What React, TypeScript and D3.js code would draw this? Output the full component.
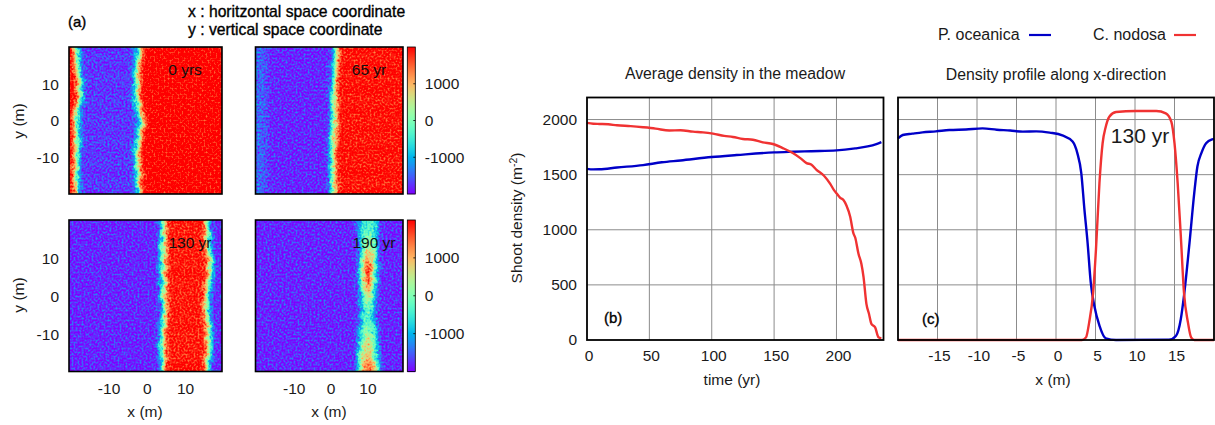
import React, { useEffect, useRef } from "react";
import * as d3 from "d3";

const FONT = "'Liberation Sans', Arial, sans-serif";

// ---- panel (a): density maps, edges read per 2 m row, top to bottom
const rowY = [19, 17, 15, 13, 11, 9, 7, 5, 3, 1, -1, -3, -5, -7, -9, -11, -13, -15, -17, -19];

const edgeLeft0 = [-18, -18, -17.8, -17.5, -17.2, -17.1, -17.1, -17.3, -17.8, -18, -18, -18.1, -18, -17.8, -17.8, -18, -18.1, -18, -18, -18];
const edgeRight0 = [-1.8, -1.9, -2.1, -2.4, -2.2, -2.4, -2.4, -2.2, -1.8, -1.2, -1.1, -1.6, -1.8, -2.2, -2.4, -2.2, -2, -1.9, -2, -1.9];
const edgeLeft65 = [1.8, 1.7, 1.6, 1.4, 1.2, 1.1, 1.2, 1.3, 1.3, 1.2, 1.1, 1.2, 1, 0.9, 0.7, 0.8, 1, 1, 0.9, 1];
const edgeLeft130 = [4.7, 4.6, 4.6, 4.5, 4.5, 4.6, 4.4, 4.6, 4.7, 4.6, 4.7, 4.8, 4.9, 4.7, 4.4, 4.2, 4.3, 4.5, 4.6, 4.6];
const edgeRight130 = [16.2, 16.3, 16.4, 16.5, 16.7, 17, 17.2, 16.9, 16.5, 16.3, 16.2, 16.2, 16.3, 16.4, 16.6, 16.8, 16.8, 16.7, 16.3, 16.1];
const edgeLeft190 = [8.2, 8.3, 8.5, 8.7, 8.9, 9, 8.8, 8.7, 8.9, 9, 8.9, 9, 8.8, 8.7, 8.5, 8.5, 8.3, 8.2, 8.1, 8.2];
const edgeRight190 = [13, 12.9, 12.7, 12.5, 12.4, 12.3, 12.3, 12.2, 12.1, 12, 12, 11.9, 12, 12.2, 12.4, 12.5, 12.7, 12.8, 12.9, 13];
const level190 = [-300, -200, 100, 500, 1100, 1500, 2000, 2000, 1700, 1100, 700, 200, -100, -100, 200, 600, 800, 800, 1100, 1500];

const levelBlue = -1810;
const levelRed = 2000;
const levelRed130 = 1960;

const mapLabels = ["0 yrs", "65 yr", "130 yr", "190 yr"];

// ---- panel (b): average density
const timeBlue = [0, 5, 10, 24, 45, 60, 75, 100, 120, 150, 165, 180, 200, 215, 225, 232, 236];
const oceanicaAvg = [1553, 1548, 1549, 1565, 1587, 1612, 1629, 1660, 1678, 1702, 1708, 1713, 1720, 1738, 1756, 1778, 1796];
const timeRed = [0, 5, 10, 17, 24, 35, 45, 55, 66, 75, 85, 93, 101, 110, 117, 125, 133, 141, 149, 157, 165, 171, 176, 180, 184, 190, 195, 198, 200, 203, 205.6, 208, 211, 213.6, 215, 217.6, 220, 221.7, 224, 226, 228, 231, 233.7, 236];
const nodosaAvg = [1970, 1962, 1960, 1957, 1948, 1940, 1930, 1918, 1900, 1903, 1890, 1884, 1872, 1852, 1842, 1824, 1817, 1793, 1778, 1741, 1696, 1650, 1605, 1590, 1544, 1490, 1416, 1360, 1331, 1290, 1270, 1220, 1118, 967, 930, 784, 690, 571, 328, 240, 146, 115, 24, 15];

// ---- panel (c): profile at 130 yr
const xBlue = [-20, -19.4, -18.2, -16.9, -15.2, -13.5, -11.4, -9.3, -7.5, -5.8, -4.2, -2.5, -0.8, 0.8, 2.1, 2.7, 3.2, 3.6, 4, 4.4, 4.85, 5.5, 6.3, 7.6, 14.3, 15.2, 15.8, 16.2, 16.9, 17.5, 17.9, 18.4, 19, 19.8, 20];
const oceanicaProfile = [1830, 1860, 1872, 1884, 1893, 1905, 1910, 1920, 1908, 1900, 1890, 1893, 1881, 1857, 1800, 1695, 1514, 1183, 882, 520, 310, 130, 15, 0, 3, 39, 190, 400, 882, 1333, 1574, 1695, 1785, 1821, 1825];
const xRed = [-20, 3.3, 3.8, 4.2, 4.7, 5.06, 5.5, 5.9, 6.3, 6.75, 7.6, 10.1, 12.7, 13.9, 14.6, 15, 15.4, 15.8, 16.2, 16.7, 17.1, 17.5, 20];
const nodosaProfile = [0, 0, 24, 160, 430, 822, 1424, 1785, 1935, 2026, 2068, 2077, 2077, 2056, 1980, 1785, 1424, 942, 430, 160, 24, 0, 0];

const mapXTicks = [-10, 0, 10];
const mapYTicks = [-10, 0, 10];
const barTicks = [-1000, 0, 1000];
const timeTicks = [0, 50, 100, 150, 200];
const densityTicks = [0, 500, 1000, 1500, 2000];
const profileTicks = [-15, -10, -5, 0, 5, 10, 15];

const BLUE = "#0000c8";
const RED = "#f03232";
const GRID = "#8c8c8c";

const clamp = (v: number) => Math.max(0, Math.min(1, v));
// gnuplot rainbow palette (rgbformulae 33,13,10)
const rainbow = (t: number) => [
  clamp(Math.abs(2 * t - 0.5)),
  clamp(Math.sin(Math.PI * t)),
  clamp(Math.cos((Math.PI * t) / 2)),
];
const tableSteps = d3.range(0, 1.0001, 1 / 40);
const table = (i: number) => tableSteps.map((t) => rainbow(t)[i].toFixed(3)).join(" ");

const valueToUnit = d3.scaleLinear().domain([-2000, 2000]).range([0, 1]).clamp(true);
const grey = (v: number) => {
  const c = Math.round(valueToUnit(v) * 255);
  return `rgb(${c},${c},${c})`;
};

type Band = { lo: number[] | number; hi: number[] | number; level: number[] | number };
type MapSpec = { base: number; bands: Band[]; x0: number; x1: number; y0: number; y1: number; seed: number; label: string; lx: number };

const at = (v: number[] | number, i: number) => (Array.isArray(v) ? v[i] : v);

const Axis = ({ kind, scale, ticks, transform }: any) => {
  const ref = useRef<SVGGElement>(null);
  useEffect(() => {
    const ax = (kind === "bottom" ? d3.axisBottom(scale) : d3.axisLeft(scale))
      .tickValues(ticks)
      .tickSize(0)
      .tickPadding(0)
      .tickFormat((d: any) => String(d));
    const g = d3.select(ref.current as SVGGElement);
    g.call(ax as any);
    g.select(".domain").remove();
    g.attr("font-family", FONT).attr("font-size", 15.5);
    g.selectAll("text").attr("fill", "#1a1a1a");
  }, []);
  return <g ref={ref} transform={transform} />;
};

const DensityMap = ({ spec, id, showY, showX }: { spec: MapSpec; id: string; showY: boolean; showX: boolean }) => {
  const { x0, x1, y0, y1 } = spec;
  const x = d3.scaleLinear().domain([-20, 20]).range([x0, x1]);
  const y = d3.scaleLinear().domain([-20, 20]).range([y1, y0]);
  const pad = 16;
  const amp = 0.44;
  return (
    <g>
      <defs>
        <clipPath id={`${id}-clip`}>
          <rect x={x0} y={y0} width={x1 - x0} height={y1 - y0} />
        </clipPath>
        <filter
          id={`${id}-f`}
          filterUnits="userSpaceOnUse"
          x={x0 - pad}
          y={y0 - pad}
          width={x1 - x0 + 2 * pad}
          height={y1 - y0 + 2 * pad}
          colorInterpolationFilters="sRGB"
        >
          {/* value image -> soft edges -> rough edges -> grain -> rainbow palette */}
          <feGaussianBlur in="SourceGraphic" stdDeviation="3.6" result="soft" />
          <feTurbulence type="fractalNoise" baseFrequency="0.14" numOctaves="2" seed={spec.seed} result="warp" />
          <feDisplacementMap in="soft" in2="warp" scale="7" xChannelSelector="R" yChannelSelector="G" result="rough" />
          <feTurbulence type="fractalNoise" baseFrequency="0.5" numOctaves="2" seed={spec.seed + 7} result="grain0" />
          <feColorMatrix in="grain0" type="matrix" values="1 0 0 0 0 1 0 0 0 0 1 0 0 0 0 0 0 0 0 1" result="grain" />
          <feComposite in="rough" in2="grain" operator="arithmetic" k1="0" k2="1" k3={amp} k4={-amp / 2} result="value" />
          <feComponentTransfer in="value">
            <feFuncR type="table" tableValues={table(0)} />
            <feFuncG type="table" tableValues={table(1)} />
            <feFuncB type="table" tableValues={table(2)} />
          </feComponentTransfer>
        </filter>
      </defs>
      <g clipPath={`url(#${id}-clip)`}>
        <g filter={`url(#${id}-f)`}>
          <rect x={x0 - pad} y={y0 - pad} width={x1 - x0 + 2 * pad} height={y1 - y0 + 2 * pad} fill={grey(spec.base)} />
          {spec.bands.map((b, k) =>
            rowY.map((ry, i) => {
              const top = i === 0 ? y0 - pad : y(ry + 1);
              const bottom = i === rowY.length - 1 ? y1 + pad : y(ry - 1);
              const l = Math.max(x(at(b.lo, i)), x0 - pad);
              const r = Math.min(x(at(b.hi, i)), x1 + pad);
              return <rect key={`${k}-${i}`} x={l} y={top} width={r - l} height={bottom - top} fill={grey(at(b.level, i))} />;
            })
          )}
        </g>
      </g>
      <rect x={x0} y={y0} width={x1 - x0} height={y1 - y0} fill="none" stroke="#000" strokeWidth={1.6} />
      <text x={spec.lx} y={y0 + 28} fontSize={15.5} fontFamily={FONT} fill="#111" textAnchor="middle">
        {spec.label}
      </text>
      {showY && <Axis kind="left" scale={y} ticks={mapYTicks} transform={`translate(${x0 - 10},0.5)`} />}
      {showX && <Axis kind="bottom" scale={x} ticks={mapXTicks} transform={`translate(1.3,${y1 + 11})`} />}
    </g>
  );
};

const ColorBar = ({ x, y0, y1 }: { x: number; y0: number; y1: number }) => {
  const y = d3.scaleLinear().domain([-2000, 2000]).range([y1, y0]);
  const cells = d3.range(0, y1 - y0);
  return (
    <g>
      {cells.map((c) => {
        const [r, g, b] = rainbow(1 - (c + 0.5) / (y1 - y0));
        return (
          <rect
            key={c}
            x={x}
            y={y0 + c}
            width={8}
            height={1.2}
            fill={d3.rgb(r * 255, g * 255, b * 255).formatHex()}
          />
        );
      })}
      <rect x={x} y={y0} width={8} height={y1 - y0} fill="none" stroke="#000" strokeWidth={0.8} />
      {barTicks.map((t) => (
        <g key={t}>
          <line x1={x + 6} x2={x + 8} y1={y(t)} y2={y(t)} stroke="#000" strokeWidth={0.8} />
          <text x={x + 17.5} y={y(t)} dy="0.35em" fontSize={15.5} fontFamily={FONT} fill="#1a1a1a">
            {t}
          </text>
        </g>
      ))}
    </g>
  );
};

const App = () => {
  const specs: MapSpec[] = [
    {
      base: levelRed,
      bands: [{ lo: edgeLeft0, hi: edgeRight0, level: levelBlue }],
      x0: 69, x1: 222, y0: 47, y1: 194, seed: 3, label: mapLabels[0], lx: 185,
    },
    {
      base: levelBlue,
      bands: [
        { lo: -30, hi: -17, level: -1450 },
        { lo: edgeLeft65, hi: 30, level: levelRed },
      ],
      x0: 255.5, x1: 403, y0: 47, y1: 194, seed: 11, label: mapLabels[1], lx: 369,
    },
    {
      base: levelBlue,
      bands: [{ lo: edgeLeft130, hi: edgeRight130, level: levelRed130 }],
      x0: 69, x1: 222, y0: 220, y1: 371.5, seed: 23, label: mapLabels[2], lx: 190,
    },
    {
      base: levelBlue,
      bands: [{ lo: edgeLeft190, hi: edgeRight190, level: level190 }],
      x0: 255.5, x1: 403, y0: 220, y1: 371.5, seed: 37, label: mapLabels[3], lx: 374,
    },
  ];

  const tX = d3.scaleLinear().domain([0, 237.7]).range([587, 883.5]);
  const dY = d3.scaleLinear().domain([0, 2200]).range([340, 97.5]);
  const pX = d3.scaleLinear().domain([-20, 20]).range([898, 1214]);

  const lineB = d3.line<number>().curve(d3.curveMonotoneX).x((d) => tX(d)).y((_, i) => dY(oceanicaAvg[i]));
  const lineR = d3.line<number>().curve(d3.curveMonotoneX).x((d) => tX(d)).y((_, i) => dY(nodosaAvg[i]));
  const lineCB = d3.line<number>().curve(d3.curveMonotoneX).x((d) => pX(d)).y((_, i) => dY(oceanicaProfile[i]));
  const lineCR = d3.line<number>().curve(d3.curveMonotoneX).x((d) => pX(d)).y((_, i) => dY(nodosaProfile[i]));

  const textProps = { fontFamily: FONT, fill: "#1a1a1a" };
  const heavy = { ...textProps, fill: "#000", stroke: "#000", strokeWidth: 0.35 };

  return (
    <svg width={1215} height={425} style={{ position: "absolute", left: 0, top: 0, display: "block", background: "#fff" }}>
      <text x={68} y={27} fontSize={15} {...heavy}>(a)</text>
      <text x={188} y={17} fontSize={15.7} {...heavy}>x : horitzontal space coordinate</text>
      <text x={188} y={35} fontSize={15.7} {...heavy}>y : vertical space coordinate</text>

      <DensityMap spec={specs[0]} id="m0" showY showX={false} />
      <DensityMap spec={specs[1]} id="m1" showY={false} showX={false} />
      <DensityMap spec={specs[2]} id="m2" showY showX />
      <DensityMap spec={specs[3]} id="m3" showY={false} showX />
      <ColorBar x={407.3} y0={47} y1={194} />
      <ColorBar x={407.3} y0={220} y1={371.5} />

      <text transform="translate(24,121) rotate(-90)" textAnchor="middle" fontSize={15.5} {...textProps}>y (m)</text>
      <text transform="translate(24,295) rotate(-90)" textAnchor="middle" fontSize={15.5} {...textProps}>y (m)</text>
      <text x={145} y={417} textAnchor="middle" fontSize={15.5} {...textProps}>x (m)</text>
      <text x={329} y={417} textAnchor="middle" fontSize={15.5} {...textProps}>x (m)</text>

      {/* legend */}
      <text x={938} y={40} fontSize={16} {...textProps}>P. oceanica</text>
      <line x1={1029} x2={1051} y1={35} y2={35} stroke={BLUE} strokeWidth={2.2} />
      <text x={1093} y={40} fontSize={16} {...textProps}>C. nodosa</text>
      <line x1={1174} x2={1196} y1={35} y2={35} stroke={RED} strokeWidth={2.2} />

      {/* panel b */}
      <text x={735} y={79} textAnchor="middle" fontSize={15.8} {...textProps}>Average density in the meadow</text>
      {timeTicks.slice(1).map((t) => (
        <line key={t} x1={tX(t)} x2={tX(t)} y1={97.5} y2={340} stroke={GRID} strokeWidth={1} />
      ))}
      {densityTicks.slice(1).map((t) => (
        <line key={t} x1={587} x2={883.5} y1={dY(t)} y2={dY(t)} stroke={GRID} strokeWidth={1} />
      ))}
      <path d={lineB(timeBlue) as string} fill="none" stroke={BLUE} strokeWidth={2.4} />
      <path d={lineR(timeRed) as string} fill="none" stroke={RED} strokeWidth={2.4} />
      <rect x={587} y={97.5} width={296.5} height={242.5} fill="none" stroke="#000" strokeWidth={1.8} />
      <Axis kind="left" scale={dY} ticks={densityTicks} transform="translate(577,0)" />
      <Axis kind="bottom" scale={tX} ticks={timeTicks} transform="translate(1.5,350)" />
      <text x={732} y={385} textAnchor="middle" fontSize={15.5} {...textProps}>time (yr)</text>
      <text transform="translate(522,218) rotate(-90)" textAnchor="middle" fontSize={15.5} {...textProps}>
        Shoot density (m<tspan dy={-5} fontSize={10.5}>-2</tspan><tspan dy={5}>)</tspan>
      </text>
      <text x={604} y={323} fontSize={15} {...heavy}>(b)</text>

      {/* panel c */}
      <text x={1056} y={80} textAnchor="middle" fontSize={15.8} {...textProps}>Density profile along x-direction</text>
      {profileTicks.map((t) => (
        <line key={t} x1={pX(t)} x2={pX(t)} y1={97.5} y2={340} stroke={GRID} strokeWidth={1} />
      ))}
      {densityTicks.slice(1).map((t) => (
        <line key={t} x1={898} x2={1214} y1={dY(t)} y2={dY(t)} stroke={GRID} strokeWidth={1} />
      ))}
      <path d={lineCB(xBlue) as string} fill="none" stroke={BLUE} strokeWidth={2.4} />
      <path d={lineCR(xRed) as string} fill="none" stroke={RED} strokeWidth={2.4} />
      <rect x={898} y={97.5} width={316} height={242.5} fill="none" stroke="#000" strokeWidth={1.8} />
      <Axis kind="bottom" scale={pX} ticks={profileTicks} transform="translate(1.5,350)" />
      <text x={1053} y={385} textAnchor="middle" fontSize={15.5} {...textProps}>x (m)</text>
      <text x={1140} y={143} textAnchor="middle" fontSize={21} {...textProps}>130 yr</text>
      <text x={922} y={324} fontSize={15} {...heavy}>(c)</text>
    </svg>
  );
};

export default App;
